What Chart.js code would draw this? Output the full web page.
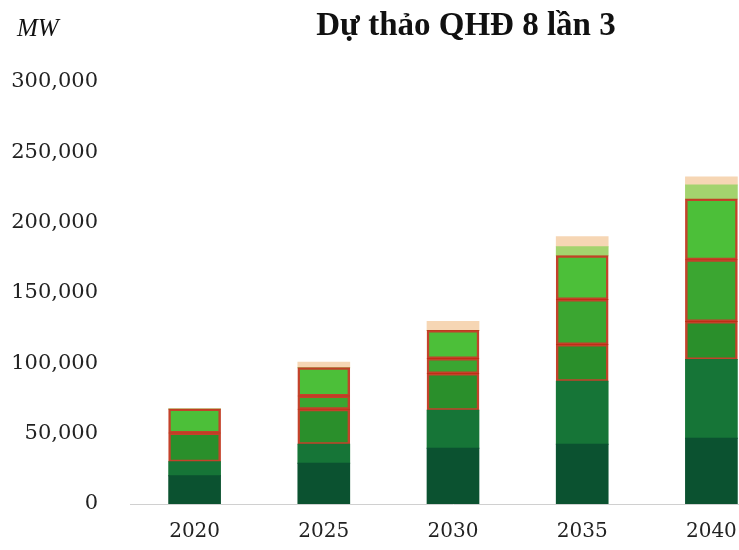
<!DOCTYPE html>
<html>
<head>
<meta charset="utf-8">
<script src="https://cdn.jsdelivr.net/npm/chart.js@4/dist/chart.umd.min.js"></script>
<style>
  html, body { margin: 0; padding: 0; background: #fff; overflow: hidden; }
  #wrap { width: 776px; height: 556px; }
</style>
</head>
<body>
<div id="wrap"><canvas id="qhdChart"></canvas></div>
<script>
// years on the x axis
const years = ['2020', '2025', '2030', '2035', '2040'];

// stacked capacity (MW), bottom to top
const seg1 = [20000, 29000, 39700, 42500, 46800];
const seg2 = [10000, 13500, 26900, 44700, 56000];
const seg3 = [20500, 24800, 26200, 26200, 26900];
const seg4 = [0, 9500, 10600, 31900, 44000];
const seg5 = [17000, 20000, 19900, 31200, 43200];
const seg6 = [0, 0, 0, 6400, 9900];
const seg7 = [0, 4000, 6400, 7100, 5700];

const yTicks = [0, 50000, 100000, 150000, 200000, 250000, 300000];

const titleText = 'Dự thảo QHĐ 8 lần 3';
const unitText = 'MW';

const boxRed = 'rgba(190, 45, 20, 0.9)';

const headerPlugin = {
  id: 'header',
  afterDraw: (chart) => {
    const ctx = chart.ctx;
    ctx.save();
    ctx.fillStyle = '#111';
    ctx.textBaseline = 'alphabetic';
    ctx.font = 'bold 33px "Liberation Serif"';
    ctx.textAlign = 'center';
    ctx.fillText(titleText, 466, 35);
    ctx.font = 'italic 25px "Liberation Serif"';
    ctx.textAlign = 'left';
    ctx.fillText(unitText, 17, 36);
    ctx.restore();
  },
};

const makeSet = (label, data, color, boxed) => ({
  label,
  data,
  backgroundColor: color,
  borderColor: boxed ? boxRed : color,
  borderWidth: boxed ? 2.5 : 0,
  borderSkipped: false,
  inflateAmount: 0.5,
  categoryPercentage: 1,
  barPercentage: 0.4,
});

const ctx = document.getElementById('qhdChart').getContext('2d');

new Chart(ctx, {
  type: 'bar',
  data: {
    labels: years,
    datasets: [
      makeSet('seg1', seg1, '#0b5230', false),
      makeSet('seg2', seg2, '#167537', false),
      makeSet('seg3', seg3, '#2a8f2b', true),
      makeSet('seg4', seg4, '#3ba631', true),
      makeSet('seg5', seg5, '#4cbf39', true),
      makeSet('seg6', seg6, '#a3d36e', false),
      makeSet('seg7', seg7, '#f6d6b4', false),
    ],
  },
  options: {
    responsive: true,
    maintainAspectRatio: false,
    animation: false,
    layout: { padding: { top: 82, right: 0, left: 0, bottom: 4 } },
    plugins: {
      legend: { display: false },
      tooltip: { enabled: false },
    },
    scales: {
      x: {
        stacked: true,
        grid: { display: false },
        border: { display: true, color: '#d0d0d0', width: 1 },
        ticks: {
          color: '#222',
          font: { family: 'DejaVu Serif', size: 20 },
          padding: 8,
        },
      },
      y: {
        stacked: true,
        min: 0,
        max: 300000,
        afterFit: (scale) => { scale.width = 130; },
        afterBuildTicks: (scale) => {
          scale.ticks = yTicks.map((v) => ({ value: v }));
        },
        grid: { display: false },
        border: { display: false },
        ticks: {
          color: '#222',
          font: { family: 'DejaVu Serif', size: 21 },
          padding: 24,
          callback: (v) => v.toLocaleString('en-US'),
        },
      },
    },
  },
  plugins: [headerPlugin],
});
</script>
</body>
</html>
